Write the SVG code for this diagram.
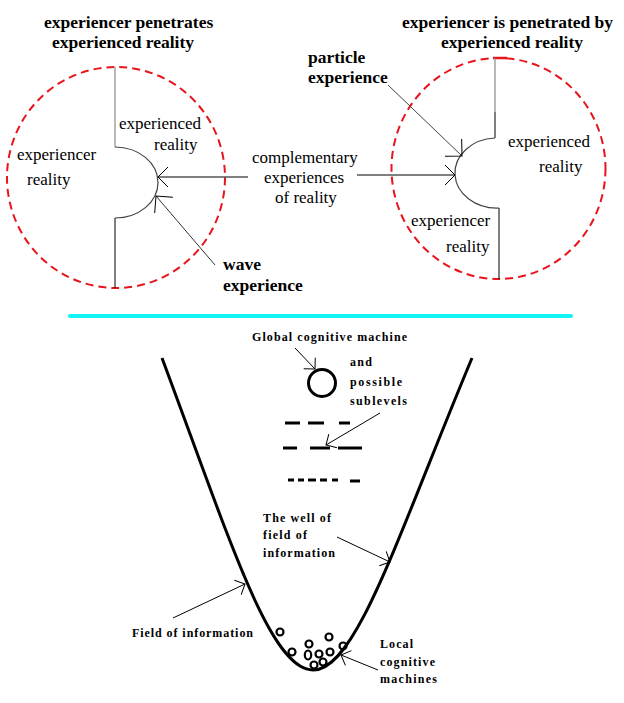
<svg xmlns="http://www.w3.org/2000/svg" width="624" height="703" viewBox="0 0 624 703">
<style>
text{font-family:'Liberation Serif','Times New Roman',serif}
.t{font-size:17px;fill:#000}
.b{font-weight:bold;font-size:17.5px}
.s{font-size:12px;font-weight:bold;fill:#000}
.red{fill:none;stroke:#e8141c;stroke-width:2;stroke-dasharray:8 5}
.ln{fill:none;stroke:#000;stroke-width:1}
.gr{fill:none;stroke:#8a8a8a;stroke-width:1.2}
.dk{fill:none;stroke:#444;stroke-width:1.2}
.thick{fill:none;stroke:#000;stroke-width:3}
.dash{stroke:#000;stroke-width:3}
</style>
<defs>
<marker id="ah" markerUnits="userSpaceOnUse" orient="auto" markerWidth="1" markerHeight="1" overflow="visible">
<path d="M-10,-10 L0,0 L-10,10" fill="none" stroke="#000" stroke-width="1"/>
</marker>
<marker id="ahL" markerUnits="userSpaceOnUse" orient="auto" markerWidth="1" markerHeight="1" overflow="visible">
<path d="M-12,-12 L0,0 L-12,12" fill="none" stroke="#000" stroke-width="1"/>
</marker>
<marker id="ahs" markerUnits="userSpaceOnUse" orient="auto" markerWidth="1" markerHeight="1" overflow="visible">
<path d="M-8,-8 L0,0 L-8,8" fill="none" stroke="#000" stroke-width="1"/>
</marker>
</defs>
<rect width="624" height="703" fill="#fff"/>

<g id="left-diagram">
<text class="t b" x="44" y="28">experiencer penetrates</text>
<text class="t b" x="52" y="48">experienced reality</text>
<ellipse class="red" cx="116" cy="177.5" rx="109" ry="110.5"/>
<line class="gr" x1="115" y1="67" x2="115" y2="147"/>
<path class="dk" d="M115,147 A43,35.5 0 0 1 115,218"/>
<line class="ln" x1="115" y1="218" x2="115" y2="288"/>
<text class="t" x="119" y="129">experienced</text>
<text class="t" x="154" y="150">reality</text>
<text class="t" x="17" y="160">experiencer</text>
<text class="t" x="27" y="185">reality</text>
</g>

<g id="right-diagram">
<text class="t b" x="402" y="28">experiencer is penetrated by</text>
<text class="t b" x="441" y="48">experienced reality</text>
<ellipse class="red" cx="498.5" cy="168.5" rx="107" ry="110.5"/>
<line x1="493" y1="58" x2="507" y2="58" stroke="#e8141c" stroke-width="2.5"/>
<line class="gr" x1="495" y1="58" x2="495" y2="112"/>
<line class="ln" x1="495" y1="112" x2="495" y2="138"/>
<path class="dk" d="M495,138 A42,35 0 0 0 499,208"/>
<line class="ln" x1="499" y1="208" x2="499" y2="279"/>
<text class="t" x="508" y="147">experienced</text>
<text class="t" x="539" y="172">reality</text>
<text class="t" x="411" y="226">experiencer</text>
<text class="t" x="446" y="252">reality</text>
</g>

<g id="labels-top">
<text class="t" x="252" y="163">complementary</text>
<text class="t" x="264" y="183">experiences</text>
<text class="t" x="275" y="203">of reality</text>
<text class="t b" x="308" y="63">particle</text>
<text class="t b" x="308" y="83">experience</text>
<text class="t b" x="223" y="270">wave</text>
<text class="t b" x="223" y="291">experience</text>
</g>

<line id="separator" x1="70" y1="316" x2="571" y2="316" stroke="#10f4f4" stroke-width="4" stroke-linecap="round"/>

<g id="well">
<path class="thick" d="M162,358 C230,540 270,670 313,670 C356,670 396,540 472,358"/>
</g>

<g id="global-machine">
<circle cx="322" cy="383" r="13.5" fill="none" stroke="#000" stroke-width="3"/>
<text class="s" x="252" y="341" textLength="155" lengthAdjust="spacing">Global cognitive machine</text>
<text class="s" x="350" y="366" textLength="22" lengthAdjust="spacing">and</text>
<text class="s" x="350" y="386" textLength="52" lengthAdjust="spacing">possible</text>
<text class="s" x="350" y="405" textLength="57" lengthAdjust="spacing">sublevels</text>
</g>

<g id="sublevels">
<line class="dash" x1="285" y1="423" x2="300" y2="423"/>
<line class="dash" x1="308" y1="423" x2="324" y2="423"/>
<line class="dash" x1="339" y1="423" x2="350" y2="423"/>
<line class="dash" x1="283" y1="448" x2="297" y2="448"/>
<line class="dash" x1="310" y1="448" x2="330" y2="448"/>
<line class="dash" x1="338" y1="448" x2="362" y2="448"/>
<line class="dash" x1="288" y1="480" x2="294" y2="480"/>
<line class="dash" x1="298" y1="480" x2="304" y2="480"/>
<line class="dash" x1="308" y1="480" x2="316" y2="480"/>
<line class="dash" x1="320" y1="480" x2="327" y2="480"/>
<line class="dash" x1="332" y1="480" x2="338" y2="480"/>
<line class="dash" x1="350" y1="481" x2="360" y2="481"/>
</g>

<g id="local-machines" fill="none" stroke="#000" stroke-width="2.2">
<circle cx="280" cy="632" r="3.5"/>
<circle cx="329" cy="637" r="3.5"/>
<circle cx="309" cy="644" r="3.5"/>
<circle cx="292" cy="652" r="3.5"/>
<ellipse cx="308" cy="655" rx="3.2" ry="4.5"/>
<circle cx="319" cy="654" r="3.5"/>
<circle cx="330" cy="652" r="3.5"/>
<circle cx="343" cy="646" r="3.5"/>
<circle cx="314" cy="665" r="3.5"/>
<circle cx="323" cy="662" r="3.5"/>
</g>

<g id="labels-bottom">
<text class="s" x="263" y="522" textLength="68" lengthAdjust="spacing">The well of</text>
<text class="s" x="263" y="539" textLength="44" lengthAdjust="spacing">field of</text>
<text class="s" x="263" y="557" textLength="72" lengthAdjust="spacing">information</text>
<text class="s" x="132" y="637" textLength="121" lengthAdjust="spacing">Field of information</text>
<text class="s" x="380" y="648" textLength="33" lengthAdjust="spacing">Local</text>
<text class="s" x="380" y="666" textLength="55" lengthAdjust="spacing">cognitive</text>
<text class="s" x="380" y="683" textLength="57" lengthAdjust="spacing">machines</text>
</g>

<g id="connectors">
<line class="ln" x1="248" y1="177" x2="158" y2="177" marker-end="url(#ah)"/>
<line class="ln" x1="357" y1="175" x2="455" y2="175" marker-end="url(#ah)"/>
<line x1="215" y1="265" x2="156" y2="196" stroke="#333" stroke-width="1" marker-end="url(#ahL)"/>
<line x1="388" y1="85" x2="462" y2="156" stroke="#444" stroke-width="1" marker-end="url(#ahL)"/>
<line class="ln" x1="295" y1="348" x2="315" y2="369" marker-end="url(#ahs)"/>
<line class="ln" x1="380" y1="413" x2="326" y2="445" marker-end="url(#ahs)"/>
<line class="ln" x1="337" y1="537" x2="390" y2="562" marker-end="url(#ahs)"/>
<line class="ln" x1="173" y1="618" x2="245" y2="584" marker-end="url(#ahs)"/>
<line class="ln" x1="378" y1="670" x2="341" y2="655" marker-end="url(#ahs)"/>
</g>
</svg>
